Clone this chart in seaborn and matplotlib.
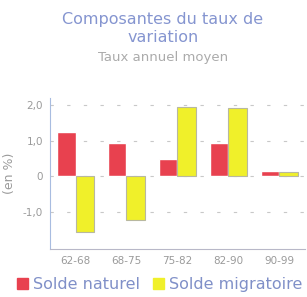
import matplotlib
matplotlib.use("Agg")
import matplotlib.pyplot as plt
import seaborn as sns
import pandas as pd

periods = ["62-68", "68-75", "75-82", "82-90", "90-99"]
solde_naturel = [1.24, 0.92, 0.49, 0.94, 0.15]
solde_migratoire = [-1.58, -1.25, 1.94, 1.93, 0.12]
series = ["Solde naturel", "Solde migratoire"]
yticks = [-1.0, 0, 1.0, 2.0]
ytick_labels = ["-1,0", "0", "1,0", "2,0"]

df = pd.DataFrame({
    "period": periods * 2,
    "value": solde_naturel + solde_migratoire,
    "serie": [series[0]] * len(periods) + [series[1]] * len(periods),
})

sns.set_style("white")
plt.rcParams["font.family"] = ["DejaVu Sans"]

fig = plt.figure(figsize=(3.07, 2.97), dpi=100)
ax = fig.add_axes([0.163, 0.162, 0.83, 0.508])

palette = {series[0]: "#e8414f", series[1]: "#f0f02a"}
sns.barplot(data=df, x="period", y="value", hue="serie", order=periods,
            hue_order=series, palette=palette, width=0.72, saturation=1,
            ax=ax, legend=False)
for p in ax.patches[len(periods):2 * len(periods)]:
    p.set_edgecolor("#b8b8a0")
    p.set_linewidth(0.8)

ax.set_ylim(-2.05, 2.2)
ax.set_xlim(-0.5, 4.5)
ax.set_yticks(yticks)
ax.set_yticklabels(ytick_labels, color="#9a9a9a", fontsize=7.5)
ax.set_xticks(range(len(periods)))
ax.set_xticklabels(periods, color="#9a9a9a", fontsize=7.5)
ax.tick_params(axis="y", length=0, pad=5)
ax.tick_params(axis="x", length=4, direction="inout", color="#b8b8c8", width=0.8, pad=3)
ax.set_xlabel("")
ax.set_ylabel("(en %)", color="#9a9a9a", fontsize=9, labelpad=5)
for y in yticks:
    ax.axhline(y, color="#c8c8c8", lw=0.8, ls=(0, (3, 12)), zorder=0)
for s in ["top", "right"]:
    ax.spines[s].set_visible(False)
ax.spines["left"].set_color("#a8bce0")
ax.spines["bottom"].set_color("#b8b8c8")
ax.spines["left"].set_linewidth(0.8)
ax.spines["bottom"].set_linewidth(0.8)

fig.text(0.53, 0.905, "Composantes du taux de\nvariation", ha="center", va="center",
         fontsize=11.5, color="#8595d0", linespacing=1.25)
fig.text(0.53, 0.805, "Taux annuel moyen", ha="center", va="center",
         fontsize=9.5, color="#ababab")

handles = [plt.Rectangle((0, 0), 1, 1, color=palette[s]) for s in series]
fig.legend(handles, series, loc="center", bbox_to_anchor=(0.52, 0.042), ncol=2,
           frameon=False, fontsize=11.5, handlelength=0.7, handleheight=0.7,
           handletextpad=0.3, columnspacing=0.8, labelcolor="#8090c8",
           borderpad=0, borderaxespad=0)

fig.savefig("out.png", dpi=100)
